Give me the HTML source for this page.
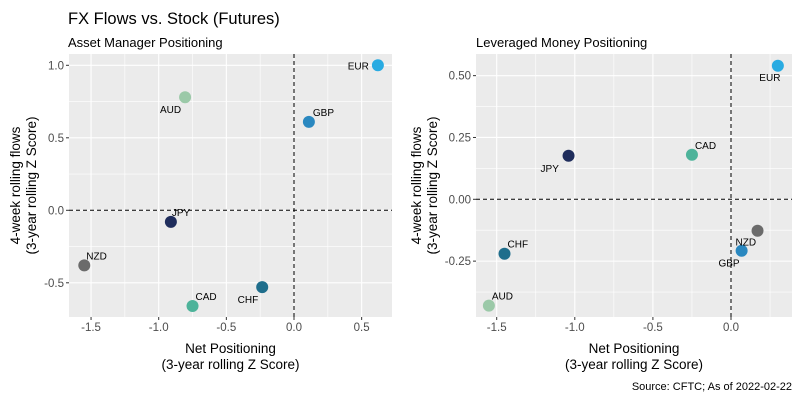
<!DOCTYPE html>
<html><head><meta charset="utf-8"><style>
body{margin:0;background:#fff;}
svg{font-family:"Liberation Sans",Arial,sans-serif;}
</style></head><body>
<svg id="c" width="800" height="400" xmlns="http://www.w3.org/2000/svg">
<text x="68" y="24" font-size="16.5" fill="#000">FX Flows vs. Stock (Futures)</text>
<text x="68" y="47" font-size="13" fill="#000">Asset Manager Positioning</text>
<text x="476" y="47" font-size="13" fill="#000">Leveraged Money Positioning</text>
<text x="792" y="390" font-size="11" text-anchor="end" fill="#000">Source: CFTC; As of 2022-02-22</text>
</svg>
<script>
const currencies=["EUR","GBP","CHF","JPY","NZD","CAD","AUD"];
const amX=[0.62,0.11,-0.235,-0.91,-1.55,-0.75,-0.805];
const amY=[1.0,0.61,-0.53,-0.08,-0.38,-0.66,0.78];
const lmX=[0.30,0.068,-1.45,-1.04,0.17,-0.25,-1.55];
const lmY=[0.54,-0.208,-0.22,0.176,-0.127,0.18,-0.43];
const amXTicks=[-1.5,-1.0,-0.5,0.0,0.5];
const amYTicks=[-0.5,0.0,0.5,1.0];
const lmXTicks=[-1.5,-1.0,-0.5,0.0];
const lmYTicks=[-0.25,0.00,0.25,0.50];
const colors=["#29abe2","#2a88c0","#1f6e8c","#1f2d5c","#6b6b6b","#4db39a","#9bc9a8"];
// label offsets (style): [dx,dy,anchor]
const amLab=[[-9,4,"end"],[4,-6,"start"],[-4,16,"end"],[1,-6,"start"],[2,-6,"start"],[3,-6,"start"],[-4,16,"end"]];
const lmLab=[[-8,15,"middle"],[-2,16,"end"],[3,-6,"start"],[-28,16,"start"],[-22,15,"start"],[3,-6,"start"],[3,-6,"start"]];
const svg=document.getElementById('c');
const NS="http://www.w3.org/2000/svg";
function mk(t,a,p){const e=document.createElementNS(NS,t);for(const k in a)e.setAttribute(k,a[k]);(p||svg).appendChild(e);return e;}
function panel(o){
  const g=mk('g',{});
  
  
  const sx=v=>o.x0px+(v-o.xref)*o.xs, sy=v=>o.y0px-(v-o.yref)*o.ys;
  const bg=mk('rect',{x:o.L,y:o.T,width:o.R-o.L,height:o.B-o.T,fill:'#ebebeb'},g);
  
  
  const xt=o.xt, yt=o.yt;
  const xstep=xt[1]-xt[0], ystep=yt[1]-yt[0];
  for(let v=xt[0]-xstep*2;v<=xt[xt.length-1]+xstep*2;v+=xstep/2){const p=sx(v);if(p<o.L||p>o.R)continue;
    const l=mk('line',{x1:p,x2:p,y1:o.T,y2:o.B,stroke:'#fff','stroke-width':Math.abs(Math.round((v-xt[0])/xstep*2))%2?0.6:1.1},g);
    
    }
  for(let v=yt[0]-ystep*2;v<=yt[yt.length-1]+ystep*2;v+=ystep/2){const p=sy(v);if(p<o.T||p>o.B)continue;
    const l=mk('line',{x1:o.L,x2:o.R,y1:p,y2:p,stroke:'#fff','stroke-width':Math.abs(Math.round((v-yt[0])/ystep*2))%2?0.6:1.1},g);
    
    }
  xt.forEach(v=>{const p=sx(v);mk('line',{x1:p,x2:p,y1:o.B,y2:o.B+3,stroke:'#333'},g);
    const t=mk('text',{x:p,y:o.B+14,'font-size':11.5,'text-anchor':'middle',fill:'#4d4d4d'},g);t.textContent=v.toFixed(o.xd);
    
    });
  yt.forEach(v=>{const p=sy(v);mk('line',{x1:o.L-3,x2:o.L,y1:p,y2:p,stroke:'#333'},g);
    const t=mk('text',{x:o.L-5,y:p+4,'font-size':11.5,'text-anchor':'end',fill:'#4d4d4d'},g);t.textContent=v.toFixed(o.yd);
    
    });
  const h=mk('line',{x1:o.L,x2:o.R,y1:sy(0),y2:sy(0),stroke:'#000','stroke-dasharray':'4,3','stroke-width':1},g);
  
  
  const vl=mk('line',{x1:sx(0),x2:sx(0),y1:o.T,y2:o.B,stroke:'#000','stroke-dasharray':'4,3','stroke-width':1},g);
  
  
  currencies.forEach((c,i)=>{const px=sx(o.X[i]),py=sy(o.Y[i]);
    const ci=mk('circle',{cx:px,cy:py,r:6,fill:colors[i]},g);
    
    
    const lb=o.lab[i];
    const t=mk('text',{x:px+lb[0],y:py+lb[1],'font-size':10,'text-anchor':lb[2],fill:'#000'},g);t.textContent=c;
    
    });
  const xa=mk('text',{x:(o.L+o.R)/2,y:o.B+36,'font-size':13.5,'text-anchor':'middle'},g);
  xa.innerHTML='<tspan x="'+(o.L+o.R)/2+'">Net Positioning</tspan><tspan x="'+(o.L+o.R)/2+'" dy="16">(3-year rolling Z Score)</tspan>';
  
  
  const cy=(o.T+o.B)/2;
  const ya=mk('text',{transform:'translate('+o.yax+','+cy+') rotate(-90)','font-size':13.5,'text-anchor':'middle'},g);
  ya.innerHTML='<tspan x="0" y="0">4-week rolling flows</tspan><tspan x="0" dy="16">(3-year rolling Z Score)</tspan>';
  
  
}
panel({name:'asset-manager-panel',L:69,R:392,T:54,B:317,x0px:294,xref:0,xs:135.3,y0px:210.3,yref:0,ys:145,
  xt:amXTicks,yt:amYTicks,xd:1,yd:1,X:amX,Y:amY,lab:amLab,yax:20});
panel({name:'leveraged-money-panel',L:476,R:792,T:54,B:317,x0px:731,xref:0,xs:156.2,y0px:199.3,yref:0,ys:247.3,
  xt:lmXTicks,yt:lmYTicks,xd:1,yd:2,X:lmX,Y:lmY,lab:lmLab,yax:421});
</script>
</body></html>
